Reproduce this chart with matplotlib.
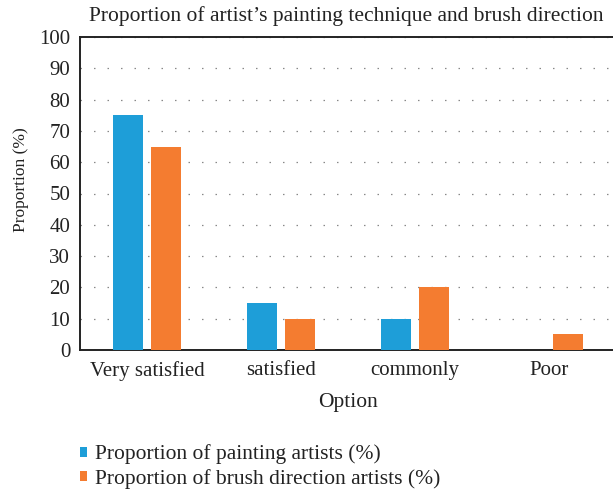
import matplotlib.pyplot as plt
import numpy as np

categories = ['Very satisfied', 'satisfied', 'commonly', 'Poor']
painting = [75, 15, 10, 0]
brush = [65, 10, 20, 5]
series_labels = ['Proportion of painting artists (%)',
                 'Proportion of brush direction artists (%)']

plt.rcParams['font.family'] = ['Liberation Serif', 'DejaVu Serif']
txt = '#222222'

fig = plt.figure(figsize=(6.13, 4.95), dpi=100)
ax = fig.add_axes([80 / 613, 1 - 350 / 495, 536 / 613, 313 / 495])

x = np.arange(len(categories))
w = 0.224
off = 0.142
ax.bar(x - off, painting, w, color='#1e9ed8', label=series_labels[0], zorder=3)
ax.bar(x + off, brush, w, color='#f47c30', label=series_labels[1], zorder=3)

ax.set_xlim(-0.5, len(categories) - 0.5)
ax.set_ylim(0, 100)
ax.set_yticks(range(0, 101, 10))
ax.set_xticks(x)
ax.set_xticklabels(categories)
ax.tick_params(axis='x', length=0, labelsize=15, colors=txt, pad=8)
ax.tick_params(axis='y', length=0, labelsize=15, colors=txt, pad=7)
ax.grid(axis='y', color='#888888', linestyle=(0, (1.2, 9.6)), linewidth=0.9, zorder=0)

for s in ['left', 'bottom', 'top']:
    ax.spines[s].set_color(txt)
    ax.spines[s].set_linewidth(1.4)
ax.spines['right'].set_visible(False)

# labels placed in figure pixels to match the reference layout
fig.text(346 / 613, 1 - 16 / 495,
         "Proportion of artist\u2019s painting technique and brush direction",
         fontsize=15.5, color=txt, ha='center', va='center')
fig.text(348 / 613, 1 - 403 / 495, 'Option', fontsize=15.5, color=txt,
         ha='center', va='center')
fig.text(21 / 613, 1 - 180 / 495, 'Proportion (%)', fontsize=12.5, color=txt,
         ha='center', va='center', rotation=90)

fig.legend(loc='center left', bbox_to_anchor=(80 / 613, 1 - 466.5 / 495), frameon=False,
           fontsize=15.5, handlelength=0.33, handleheight=0.33, handletextpad=0.37,
           labelspacing=0.2, borderpad=0, borderaxespad=0, labelcolor=txt)

fig.savefig('out.png', dpi=100)
